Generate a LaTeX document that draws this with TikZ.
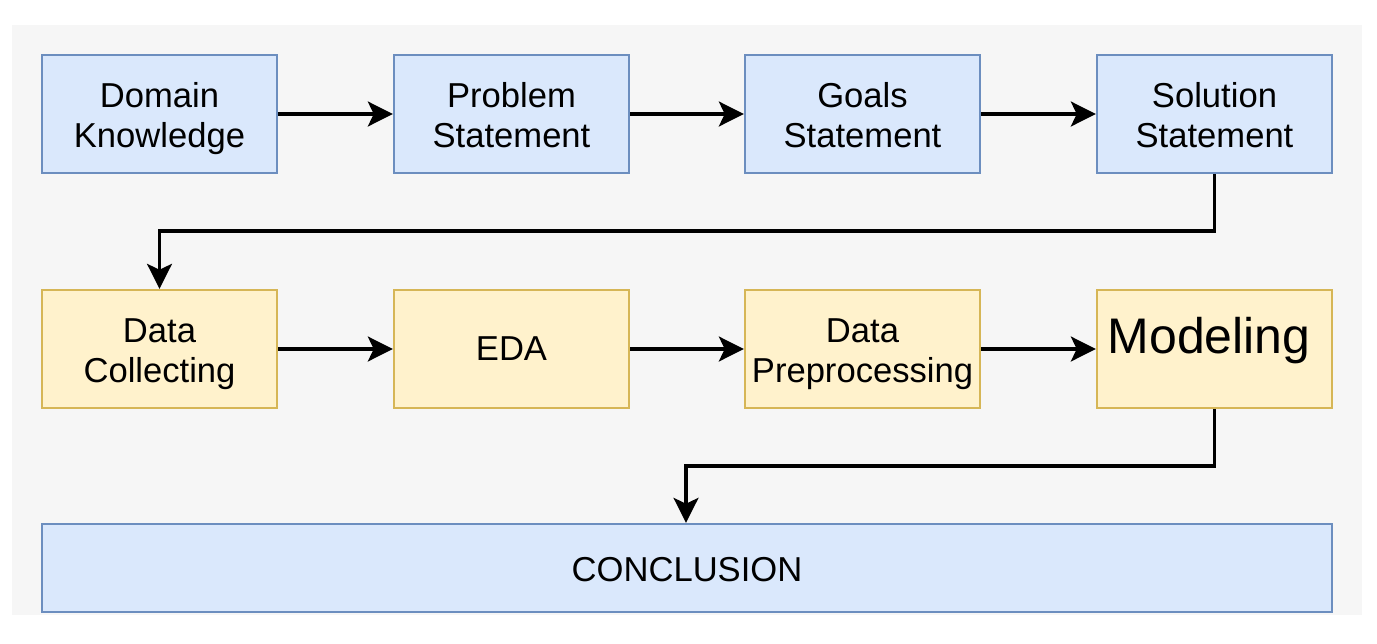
\documentclass[tikz,border=0pt]{standalone}
\usepackage{fontspec}
\setmainfont{Liberation Sans}
\usetikzlibrary{arrows.meta}
\definecolor{bgc}{HTML}{F6F6F6}
\definecolor{bfill}{HTML}{DAE8FC}
\definecolor{bdraw}{HTML}{6C8EBF}
\definecolor{yfill}{HTML}{FFF2CC}
\definecolor{ydraw}{HTML}{D6B656}
\begin{document}
\begin{tikzpicture}[x=0.5pt,y=-0.5pt,
  box/.style={rectangle,minimum width=117.5pt,minimum height=59pt,inner sep=0pt,line width=1.2pt},
  bluebox/.style={box,fill=bfill,draw=bdraw},
  yelbox/.style={box,fill=yfill,draw=ydraw},
  txt/.style={inner sep=0pt,align=center,font=\fontsize{17.3pt}{20pt}\selectfont},
  two/.style={txt,text depth=3.6pt,yshift=-2.5pt},
  conn/.style={line width=1.6pt,-{Stealth[length=12.5pt,width=12.5pt,inset=3pt]}}]
\useasboundingbox (0,0) rectangle (1377,643);
\fill[white] (0,0) rectangle (1377,643);
\fill[bgc] (12,25) rectangle (1362,615);
% row 1
\node[bluebox] (dk) at (159.5,114) {};
\node[bluebox] (ps) at (511.5,114) {};
\node[bluebox] (gs) at (862.5,114) {};
\node[bluebox] (ss) at (1214.5,114) {};
\node[two] (dkt) at (dk) {Domain\\Knowledge};
\node[two] (pst) at (ps) {Problem\\Statement};
\node[two] (gst) at (gs) {Goals\\Statement};
\node[two] (sst) at (ss) {Solution\\Statement};
% row 2
\node[yelbox] (dc) at (159.5,349) {};
\node[yelbox] (eda) at (511.5,349) {};
\node[yelbox] (dp) at (862.5,349) {};
\node[yelbox] (mo) at (1214.5,349) {};
\node[two] (dct) at (dc) {Data\\Collecting};
\node[txt] (edat) at (eda) {EDA};
\node[two] (dpt) at (dp) {Data\\Preprocessing};
\node[font=\fontsize{25pt}{28pt}\selectfont,inner sep=0pt] (mot) at (1209,341) {Modeling};
% conclusion
\node[bluebox,minimum width=645pt,minimum height=44pt] (co) at (687,568) {};
\node[txt,yshift=-1pt] (cot) at (co) {CONCLUSION};
% connectors
\draw[conn] (dk) -- (ps);
\draw[conn] (ps) -- (gs);
\draw[conn] (gs) -- (ss);
\draw[conn] (dc) -- (eda);
\draw[conn] (eda) -- (dp);
\draw[conn] (dp) -- (mo);
\coordinate (t1) at (1214.5,231);
\coordinate (t2) at (159.5,231);
\draw[conn] (ss.south) -- (t1) -- (t2) -- (dc.north);
\coordinate (u1) at (1214.5,466);
\coordinate (u2) at (686,466);
\draw[conn] (mo.south) -- (u1) -- (u2) -- (u2 |- co.north);
\end{tikzpicture}
\end{document}
